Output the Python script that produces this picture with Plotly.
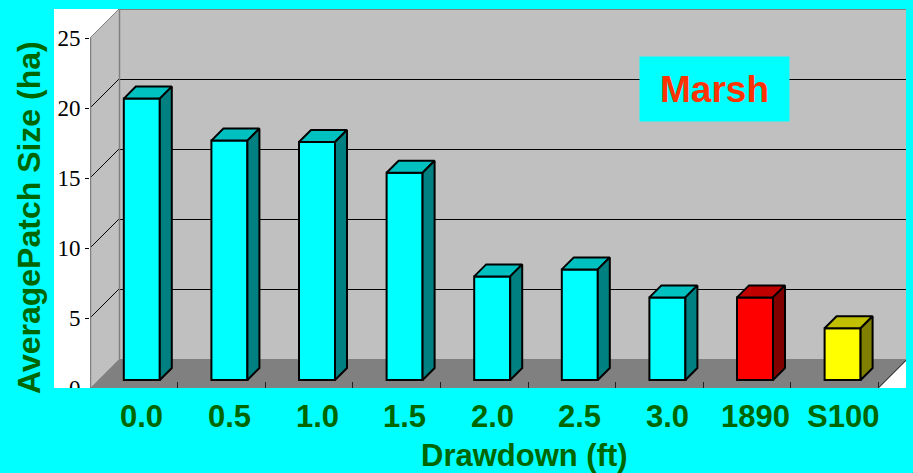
import plotly.graph_objects as go

# Average patch size of marsh habitat per drawdown scenario
categories = ["0.0", "0.5", "1.0", "1.5", "2.0", "2.5", "3.0", "1890", "S100"]
patch_size = [20.1, 17.1, 17.0, 14.8, 7.4, 7.9, 5.9, 5.9, 3.7]
front_colors = ["#00FFFF"] * 7 + ["#FF0000", "#FFFF00"]
top_colors = ["#00C0C0"] * 7 + ["#C00000", "#C0C000"]
side_colors = ["#008080"] * 7 + ["#800000", "#808000"]
y_ticks = [0, 5, 10, 15, 20, 25]
y_max_tick = 25

# ---- page / projection geometry -------------------------------------------
W, H = 913, 473
ML, MR, MT, MB = 90, 7, 9, 85
PW, PH = W - ML - MR, H - MT - MB
SLOT_PX = 87.6            # width of one category slot on the front plane
UNIT_PX = 14.0            # pixels per hectare
X0 = -0.5
XMAX = X0 + PW / SLOT_PX
YMAX = PH / UNIT_PX

DX = 29 / SLOT_PX         # oblique depth of the floor / walls
DY = 29 / UNIT_PX
BX = 8 / SLOT_PX          # bars are set back from the front edge
BY = 8 / UNIT_PX
BDX = 12 / SLOT_PX        # depth of each column
BDY = 12 / UNIT_PX
BAR_W = 36 / SLOT_PX
HALF_Y = 0.5 / UNIT_PX    # half-pixel nudge keeps 1px rules crisp
HALF_X = 0.5 / SLOT_PX

n = len(categories)
GREEN = "#006600"
SANS = "Liberation Sans, Arial, sans-serif"

fig = go.Figure()

# front faces of the columns
fig.add_trace(go.Bar(
    x=[i + BX for i in range(n)],
    y=patch_size,
    base=[BY] * n,
    width=BAR_W,
    marker=dict(color=front_colors, line=dict(color="black", width=2)),
    hoverinfo="skip",
))

# top and side faces of the columns
for i, v in enumerate(patch_size):
    xl = i + BX - BAR_W / 2
    xr = i + BX + BAR_W / 2
    top = BY + v
    fig.add_trace(go.Scatter(
        x=[xl, xr, xr + BDX, xl + BDX, xl],
        y=[top, top, top + BDY, top + BDY, top],
        mode="lines", fill="toself", fillcolor=top_colors[i],
        line=dict(color="black", width=2), hoverinfo="skip",
    ))
    fig.add_trace(go.Scatter(
        x=[xr, xr + BDX, xr + BDX, xr, xr],
        y=[BY, BY + BDY, top + BDY, top, BY],
        mode="lines", fill="toself", fillcolor=side_colors[i],
        line=dict(color="black", width=2), hoverinfo="skip",
    ))

shapes = []
# white chart area to the left of the value axis
shapes.append(dict(type="rect", xref="paper", yref="paper",
                   x0=(54 - ML) / PW, x1=0, y0=0, y1=1,
                   fillcolor="white", line=dict(width=0), layer="below"))
# side wall, back wall, floor
shapes.append(dict(type="path", xref="x", yref="y", layer="below",
                   path=f"M {X0},0 L {X0},{y_max_tick} L {X0 + DX},{y_max_tick + DY} L {X0 + DX},{DY} Z",
                   fillcolor="#C0C0C0", line=dict(width=0)))
shapes.append(dict(type="rect", xref="x", yref="y", layer="below",
                   x0=X0 + DX, x1=XMAX + 1, y0=DY, y1=y_max_tick + DY,
                   fillcolor="#C0C0C0", line=dict(width=0)))
xf = X0 + n
shapes.append(dict(type="path", xref="x", yref="y", layer="below",
                   path=f"M {X0},0 L {xf},0 L {xf + DX},{DY} L {X0 + DX},{DY} Z",
                   fillcolor="#808080", line=dict(width=0)))
# gridlines on the back wall and matching diagonals on the side wall
for v in y_ticks[1:]:
    col = "#808080" if v == y_max_tick else "black"
    yb = v + DY - HALF_Y
    shapes.append(dict(type="line", xref="x", yref="y", layer="below",
                       x0=X0 + DX, x1=XMAX + 1, y0=yb, y1=yb,
                       line=dict(color=col, width=1)))
    shapes.append(dict(type="line", xref="x", yref="y", layer="below",
                       x0=X0, x1=X0 + DX, y0=v, y1=v + DY,
                       line=dict(color=col, width=1)))
# wall edges
shapes.append(dict(type="line", xref="x", yref="y", layer="below",
                   x0=X0 + DX + HALF_X, x1=X0 + DX + HALF_X, y0=DY, y1=y_max_tick + DY,
                   line=dict(color="#808080", width=1.5)))
shapes.append(dict(type="line", xref="x", yref="y", layer="below",
                   x0=X0 + HALF_X, x1=X0 + HALF_X, y0=0, y1=y_max_tick,
                   line=dict(color="#808080", width=1.5)))
shapes.append(dict(type="line", xref="x", yref="y", layer="below",
                   x0=xf, x1=xf + DX, y0=0, y1=DY,
                   line=dict(color="black", width=1)))
# background strip below the chart area (trims the lowest value label)
shapes.append(dict(type="rect", xref="paper", yref="paper",
                   x0=-ML / PW, x1=0, y0=-MB / PH, y1=0,
                   fillcolor="#00FFFF", line=dict(width=0), layer="above"))

annotations = []
for i, c in enumerate(categories):
    annotations.append(dict(
        x=i + BX, xref="x", y=(388 - 416) / PH, yref="paper",
        text=f"<b>{c}</b>", showarrow=False, xanchor="center", yanchor="middle",
        font=dict(family=SANS, size=31, color=GREEN)))
annotations.append(dict(
    x=(524 - ML) / PW, xref="paper", y=(388 - 455) / PH, yref="paper",
    text="<b>Drawdown (ft)</b>", showarrow=False, xanchor="center", yanchor="middle",
    font=dict(family=SANS, size=31, color=GREEN)))
annotations.append(dict(
    x=(29 - ML) / PW, xref="paper", y=(388 - 218) / PH, yref="paper",
    text="<b>AveragePatch Size (ha)</b>", textangle=-90, showarrow=False,
    xanchor="center", yanchor="middle",
    font=dict(family=SANS, size=32, color=GREEN)))
annotations.append(dict(
    x=(714.5 - ML) / PW, xref="paper", y=(388 - 89) / PH, yref="paper",
    text="<b>Marsh</b>", showarrow=False, xanchor="center", yanchor="middle",
    width=149, height=64, borderpad=0, bgcolor="#00FFFF",
    font=dict(family=SANS, size=37, color="#FF3300")))

fig.update_layout(
    width=W, height=H,
    margin=dict(l=ML, r=MR, t=MT, b=MB, pad=0),
    paper_bgcolor="#00FFFF", plot_bgcolor="white",
    showlegend=False,
    shapes=shapes, annotations=annotations,
    xaxis=dict(range=[X0, XMAX], tickvals=[X0 + k for k in range(n + 1)],
               ticks="inside", ticklen=6, tickcolor="#202020", tickwidth=1,
               showticklabels=False, showgrid=False, zeroline=False, showline=False,
               fixedrange=True),
    yaxis=dict(range=[0, YMAX], tickvals=y_ticks, ticks="outside", ticklen=4,
               tickcolor="black", tickwidth=1,
               tickfont=dict(family="Liberation Serif, Times New Roman, serif", size=23, color="black"),
               showgrid=False, zeroline=False, showline=False, fixedrange=True),
)

fig.write_html("out.html")
